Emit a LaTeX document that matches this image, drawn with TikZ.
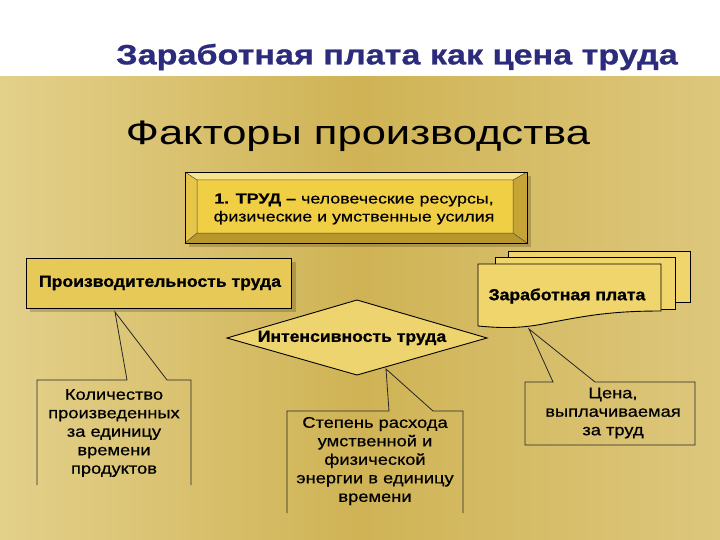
\documentclass[tikz,border=0pt]{standalone}
\usepackage{fontspec}
\setmainfont{Liberation Sans}
\newfontfamily\ftitle[FakeStretch=1.22,FakeBold=0.8]{Liberation Sans}
\newfontfamily\fsub[FakeStretch=1.28]{Liberation Sans}
\newfontfamily\fboxtxt[FakeStretch=1.23,FakeBold=0.3]{Liberation Sans}
\newfontfamily\fcall[FakeStretch=1.18,FakeBold=0.5]{Liberation Sans}
\newfontfamily\flab[FakeStretch=1.1,FakeBold=1]{Liberation Sans}
\usetikzlibrary{shapes.geometric}
\definecolor{titleblue}{HTML}{2D2B7C}
\definecolor{goldL}{HTML}{E3D08A}
\definecolor{goldM}{HTML}{CFB355}
\definecolor{goldR}{HTML}{DDC77C}
\definecolor{face}{HTML}{F0CF45}
\definecolor{bevT}{HTML}{F8E48C}
\definecolor{bevL}{HTML}{E6C548}
\definecolor{bevB}{HTML}{B8972C}
\definecolor{bevR}{HTML}{C7A436}
\definecolor{prodfill}{HTML}{E7C957}
\definecolor{docfill}{HTML}{EFD56C}
\definecolor{diafill}{HTML}{EED46E}
\tikzset{
  bline/.style={draw=black, line width=0.9pt},
  cline/.style={draw=black!85, line width=0.8pt},
  ctext/.style={align=center, font=\fcall\fontsize{15.5}{18.5}\selectfont, inner sep=0pt},
  btext/.style={font=\flab\bfseries\fontsize{16}{18}\selectfont, inner sep=0pt},
  shadowfill/.style={fill=black, opacity=0.18},
}
\begin{document}
\begin{tikzpicture}[x=1pt,y=-1pt]
\useasboundingbox (0,0) rectangle (720,540);
% background
\fill[white] (0,0) rectangle (720,77);
\shade[left color=goldL, right color=goldR, middle color=goldM] (0,77) rectangle (720,540);
% titles
\node[text=titleblue, font=\ftitle\bfseries\fontsize{28}{30}\selectfont, inner sep=0pt] (title) at (397,57) {Заработная плата как цена труда};
\node[font=\fsub\fontsize{34}{36}\selectfont, inner sep=0pt] (sub) at (358,136) {Факторы производства};
% shadows
\fill[shadowfill] (189,176) rectangle (531,247);
\fill[shadowfill] (30,262) rectangle (296,312);
% bevel box
\fill[face] (185,172) rectangle (527,243);
\fill[bevT] (185,172) -- (527,172) -- (513,180) -- (197,180) -- cycle;
\fill[bevL] (185,172) -- (197,180) -- (197,233) -- (185,243) -- cycle;
\fill[bevB] (185,243) -- (197,233) -- (513,233) -- (527,243) -- cycle;
\fill[bevR] (527,172) -- (527,243) -- (513,233) -- (513,180) -- cycle;
\draw[black!70, line width=0.5pt] (197,180) rectangle (513,233)
  (185,172) -- (197,180) (527,172) -- (513,180) (185,243) -- (197,233) (527,243) -- (513,233);
\draw[bline] (185,172) rectangle (527,243);
\node[align=center, font=\fboxtxt\fontsize{14.5}{18}\selectfont, inner sep=0pt] (trud) at (354,209)
  {\textbf{1. ТРУД –} человеческие ресурсы,\\физические и умственные усилия};
% productivity box
\node[bline, fill=prodfill, minimum width=265pt, minimum height=50pt, inner sep=0pt] (prod) at (159,283) {};
\node[btext] (prodt) at (160,283) {Производительность труда};
% documents
\draw[bline, fill=docfill] (508,251) rectangle (690,302);
\draw[bline, fill=docfill] (495,257) rectangle (675,309);
\draw[bline, fill=docfill] (478,264) -- (661,264) -- (661,311)
  .. controls (610,311) and (585,316) .. (548,323)
  .. controls (520,329) and (500,328) .. (478,326) -- cycle;
\node[btext] (wage) at (567,296) {Заработная плата};
\coordinate (wagetip) at (529,329);
% diamond
\draw[bline, fill=diafill] (227,338) -- (357,300) -- (487,338) -- (357,375) -- cycle;
\coordinate (diatip) at (386,369);
\node[btext] (inten) at (352,338) {Интенсивность труда};
\coordinate (prodtip) at (115,312);
% left callout
\coordinate (lA) at (37,485); \coordinate (lB) at (37,380); \coordinate (lC) at (127,380);
\coordinate (lD) at (167,380); \coordinate (lE) at (191,380); \coordinate (lF) at (191,485);
\draw[cline] (lA) -- (lB) -- (lC) -- (prodtip) -- (lD) -- (lE) -- (lF);
\node[ctext] (ltext) at (114,433) {Количество\\произведенных\\за единицу\\времени\\продуктов};
% middle callout
\coordinate (mA) at (287,513); \coordinate (mB) at (287,411); \coordinate (mC) at (389,411);
\coordinate (mD) at (433,411); \coordinate (mE) at (463,411); \coordinate (mF) at (463,513);
\draw[cline] (mA) -- (mB) -- (mC) -- (diatip) -- (mD) -- (mE) -- (mF);
\node[ctext] (mtext) at (375,461) {Степень расхода\\умственной и\\физической\\энергии в единицу\\времени};
% right callout
\coordinate (rA) at (525,445); \coordinate (rB) at (525,382); \coordinate (rC) at (553,382);
\coordinate (rD) at (595,382); \coordinate (rE) at (695,382); \coordinate (rF) at (695,445);
\draw[cline] (rA) -- (rB) -- (rC) -- (wagetip) -- (rD) -- (rE) -- (rF) -- cycle;
\node[ctext] (rtext) at (613,413) {Цена,\\выплачиваемая\\за труд};
\end{tikzpicture}
\end{document}
